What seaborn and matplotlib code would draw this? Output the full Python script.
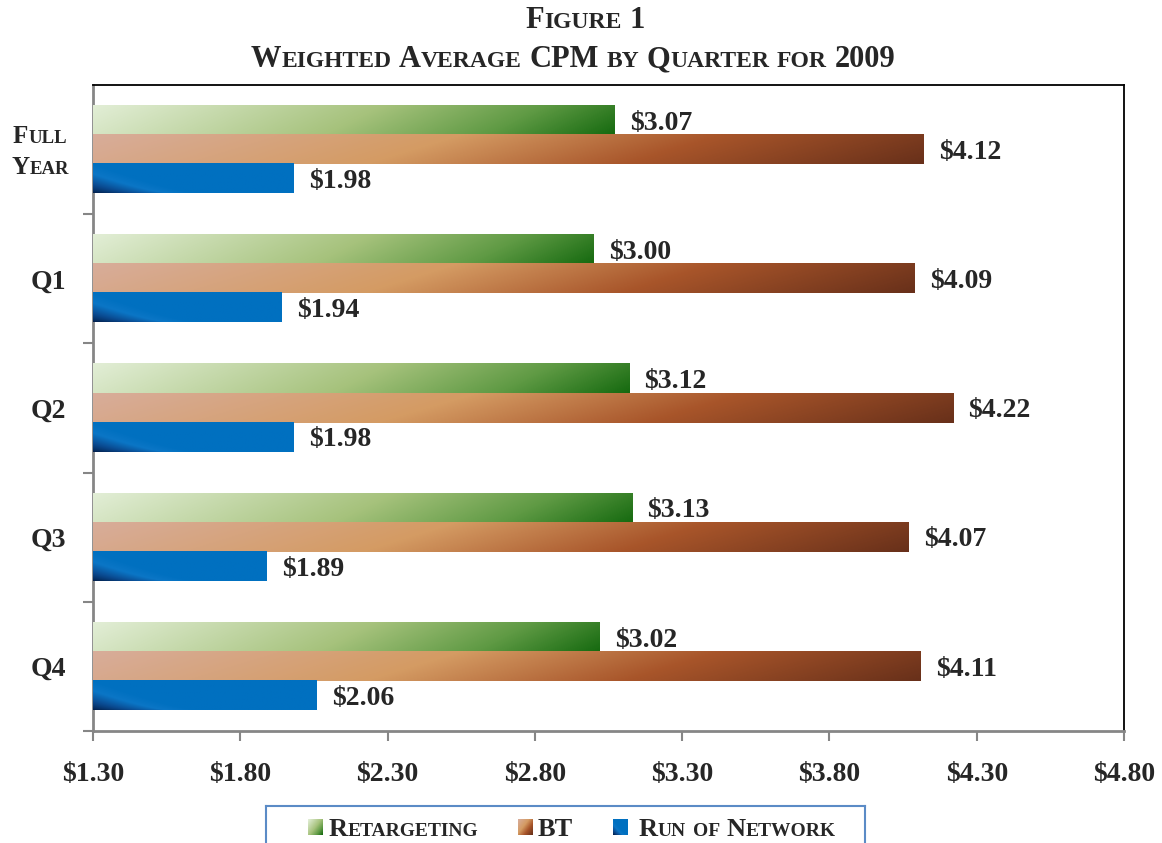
import numpy as np
import pandas as pd
import matplotlib
matplotlib.use('Agg')
import matplotlib.pyplot as plt
import seaborn as sns
from matplotlib.colors import LinearSegmentedColormap
from matplotlib.transforms import IdentityTransform

# chart data
quarters = ['Full Year', 'Q1', 'Q2', 'Q3', 'Q4']
series = ['Retargeting', 'BT', 'Run of Network']
retargeting = [3.07, 3.00, 3.12, 3.13, 3.02]
bt = [4.12, 4.09, 4.22, 4.07, 4.11]
run_of_network = [1.98, 1.94, 1.98, 1.89, 2.06]
x_ticks = [1.30, 1.80, 2.30, 2.80, 3.30, 3.80, 4.30, 4.80]

df = pd.DataFrame({
    'quarter': quarters * 3,
    'series': np.repeat(series, len(quarters)),
    'cpm': retargeting + bt + run_of_network,
})

base_colors = {'Retargeting': '#6aa150', 'BT': '#b86a38', 'Run of Network': '#0070c0'}
cmaps = {
    'Retargeting': LinearSegmentedColormap.from_list(
        'green', [(0, '#e2eed6'), (0.5, '#a6c27c'), (0.78, '#5f9a44'), (1, '#166a10')]),
    'BT': LinearSegmentedColormap.from_list(
        'brown', [(0, '#d8ad9a'), (0.4, '#d49b63'), (0.68, '#a8552a'), (1, '#68301a')]),
    'Run of Network': LinearSegmentedColormap.from_list(
        'blue', [(0, '#03224f'), (0.35, '#0a4a90'), (0.7, '#0b76c6'), (1, '#0070c0')]),
}


def gradient(name, w_px, h_px, blue_span=100):
    w_px, h_px = max(int(w_px), 2), max(int(h_px), 2)
    u = np.linspace(0, 1, w_px)[None, :]
    v = np.linspace(0, 1, h_px)[:, None]  # 0 = top row
    if name == 'Run of Network':
        t = np.clip(u * w_px / blue_span + (1 - v) ** 0.8 * 1.0, 0, 1)
    else:
        t = 0.9 * u + 0.1 * v
    return cmaps[name](t)


sns.set_style('white')
plt.rcParams['font.family'] = ['Liberation Serif', 'DejaVu Serif']
plt.rcParams['font.weight'] = 'bold'

fig = plt.figure(figsize=(11.62, 8.43), dpi=100)
ax = fig.add_axes([93 / 1162, 112 / 843, 1031 / 1162, 646 / 843])

sns.barplot(data=df, x='cpm', y='quarter', hue='series', orient='h',
            palette=base_colors, width=0.675, saturation=1, legend=False, ax=ax)
ax.set_xlim(1.3, 4.8)
ax.set_ylim(4.5, -0.5)

# gradient fills over each bar + value labels
for name, container in zip(series, ax.containers):
    for bar in container:
        x0, x1 = 1.3, bar.get_width()
        y0, y1 = bar.get_y(), bar.get_y() + bar.get_height()
        (px0, py0), (px1, py1) = ax.transData.transform([(x0, y0), (x1, y1)])
        img = gradient(name, abs(px1 - px0), abs(py1 - py0))
        ax.imshow(img, extent=(x0, x1, y1, y0), origin='upper', aspect='auto',
                  interpolation='bilinear', zorder=3)
    texts = ax.bar_label(container, labels=[f'${v:.2f}' for v in container.datavalues],
                         padding=11, fontsize=20, fontweight='bold')
    for t in texts:
        t.xyann = (11, -2)

ax.set_xlim(1.3, 4.8)
ax.set_ylim(4.5, -0.5)
ax.set_xlabel('')
ax.set_ylabel('')

ax.set_xticks(x_ticks)
ax.set_xticklabels([f'${t:.2f}' for t in x_ticks])
ax.tick_params(axis='x', bottom=True, length=7, width=1.5, color='#868686',
               pad=15, labelsize=20)
ax.set_yticks(range(len(quarters)))
ax.set_yticklabels([''] + quarters[1:])
ax.set_yticks(np.arange(0.5, len(quarters), 1), minor=True)
ax.tick_params(axis='y', which='major', left=False, length=0, pad=19, labelsize=20)
ax.tick_params(axis='y', which='minor', left=True, length=7, width=1.5, color='#868686')

for side in ['top', 'right']:
    ax.spines[side].set_color('black')
    ax.spines[side].set_linewidth(1.3)
for side in ['left', 'bottom']:
    ax.spines[side].set_color('#868686')
    ax.spines[side].set_linewidth(2)


def small_caps(x, y, text, big, small, ha='center'):
    # x, y in pixels, y measured from top of image, y = baseline
    renderer = fig.canvas.get_renderer()
    runs = []
    for ch in text:
        kind = 'space' if ch == ' ' else ('small' if ch.islower() else 'big')
        if runs and runs[-1][1] == kind:
            runs[-1][0] += ch
        else:
            runs.append([ch, kind])
    sizes = {'big': big, 'small': small, 'space': big}

    def width(s, size):
        t = fig.text(0, 0, s, fontsize=size, transform=IdentityTransform())
        w = t.get_window_extent(renderer).width
        t.remove()
        return w

    space_w = width('n n', big) - width('nn', big)
    widths = [space_w * len(s) if k == 'space' else width(s.upper(), sizes[k]) for s, k in runs]
    total = sum(widths)
    start = {'left': x, 'center': x - total / 2, 'right': x - total}[ha]
    for (s, k), w in zip(runs, widths):
        if k != 'space':
            fig.text(start, 843 - y, s.upper(), fontsize=sizes[k], ha='left',
                     va='baseline', transform=IdentityTransform())
        start += w


# title
small_caps(585, 28, 'Figure 1', 22, 17)
small_caps(573, 67, 'Weighted Average CPM by Quarter for 2009', 22, 17)

# "Full Year" category label
small_caps(40, 143, 'Full', 18, 13.5)
small_caps(40, 174, 'Year', 18, 13.5)

# legend box
lax = fig.add_axes([266 / 1162, -10 / 843, 599 / 1162, 47 / 843])
lax.set_xlim(0, 599)
lax.set_ylim(0, 47)
lax.set_xticks([])
lax.set_yticks([])
for sp in lax.spines.values():
    sp.set_color('#5b8bc6')
    sp.set_linewidth(1.5)

legend_pos = [(308, 329), (518, 538), (613, 639)]
for name, (sq_x, txt_x) in zip(series, legend_pos):
    x0 = sq_x - 266
    img = gradient(name, 15, 16, blue_span=14)
    if name != 'Run of Network':
        u = np.linspace(0, 1, 15)[None, :]
        v = np.linspace(0, 1, 16)[:, None]
        img = cmaps[name](0.55 * u + 0.45 * v)
    lax.imshow(img, extent=(x0, x0 + 15, 18, 34), origin='upper', aspect='auto',
               interpolation='bilinear')
    small_caps(txt_x, 836, name, 19, 14, ha='left')
lax.set_xlim(0, 599)
lax.set_ylim(0, 47)

fig.savefig('out.png', dpi=100, facecolor='white')
